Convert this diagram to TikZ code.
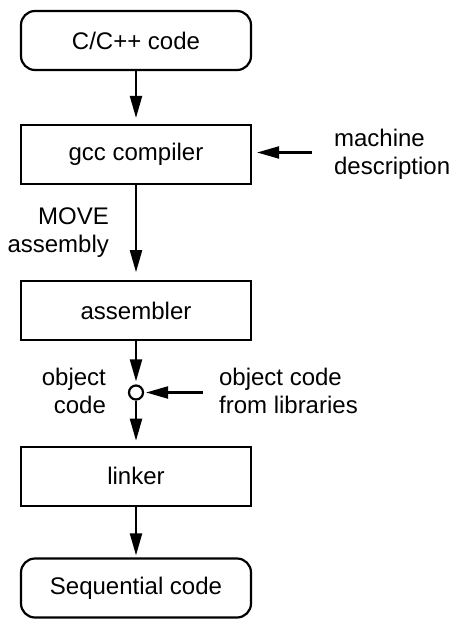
\documentclass[tikz,border=0pt]{standalone}
\usepackage{fontspec}
\setmainfont{Liberation Sans}
\usetikzlibrary{arrows.meta}
\begin{document}
\begin{tikzpicture}[x=1pt,y=-1pt,
  line width=2.2pt,
  every node/.style={font=\fontsize{24}{28}\selectfont},
  stagebox/.style={draw, rectangle, minimum width=230pt, minimum height=59pt, inner sep=0pt},
  endbox/.style={stagebox, rounded corners=14pt},
  label/.style={inner sep=0pt},
  arr/.style={-{Triangle[length=22pt,width=12pt]}}]
  \useasboundingbox (0,0) rectangle (453,620);

  % processing chain
  \node[endbox]   (src)  at (136,40.5)  {C/C++ code};
  \node[stagebox] (gcc)  at (136,154.5) {gcc compiler};
  \node[stagebox] (asm)  at (136,310.8) {assembler};
  \node[draw, circle, minimum size=14pt, inner sep=0pt, line width=2.2pt] (join) at (136,392.5) {};
  \node[stagebox] (ld)   at (136,476.3) {linker};
  \node[endbox]   (seq)  at (136,588)   {Sequential code};

  % side inputs
  \coordinate (mdsrc)  at (312,152.5);
  \coordinate (libsrc) at (203,392.5);

  % labels (base anchor sits on the last line)
  \node[label, anchor=base west, align=left]  (mdtext)  at (333,175) {machine\\description};
  \node[label, anchor=base east, align=right] (movetxt) at (110,252) {MOVE\\assembly};
  \node[label, anchor=base east, align=right] (objtxt)  at (107,413) {object\\code};
  \node[label, anchor=base west, align=left]  (libtxt)  at (218,413) {object code\\from libraries};

  % connectors
  \draw[arr, shorten >=6pt] (src) -- (gcc);
  \draw[arr, shorten >=8pt] (gcc) -- (asm);
  \draw[arr, shorten >=3pt] (asm) -- (join);
  \draw[arr, shorten >=5pt] (join) -- (ld);
  \draw[arr, shorten >=2pt] (ld) -- (seq);
  \draw[arr, shorten >=5pt] (mdsrc) -- (mdsrc -| gcc.east);
  \draw[arr, shorten >=2pt] (libsrc) -- (join);
\end{tikzpicture}
\end{document}
